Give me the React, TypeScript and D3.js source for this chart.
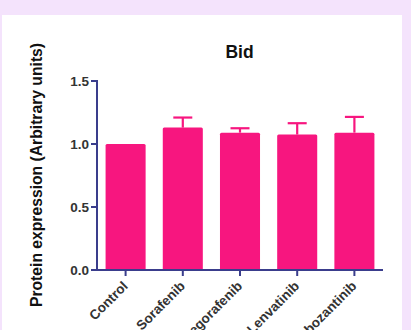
import React from "react";
import * as d3 from "d3";

const categories = ["Control", "Sorafenib", "Regorafenib", "Lenvatinib", "Cabozantinib"];
const means = [1.0, 1.13, 1.09, 1.075, 1.09];
const errors = [0, 0.08, 0.035, 0.09, 0.125];
const yTicks = [0.0, 0.5, 1.0, 1.5];

const W = 411;
const H = 330;
const BAR = "#f7167f";
const AXIS = "#3a3d8c";
const FONT = "'Liberation Sans', Arial, sans-serif";

export default function App() {
  const x = d3.scaleBand<string>().domain(categories).range([97, 383]).paddingInner(0.3).paddingOuter(0.15);
  const y = d3.scaleLinear().domain([0, 1.5]).range([270, 81]);
  const bw = x.bandwidth();

  return (
    <svg
      width={W}
      height={H}
      style={{ position: "absolute", left: 0, top: 0, display: "block" }}
      fontFamily={FONT}
    >
      <rect x={0} y={0} width={W} height={H} fill="#f4e3fc" />
      <rect x={2} y={15} width={400} height={H} fill="#ffffff" />

      <text x={239.5} y={58} textAnchor="middle" fontSize={17.5} fontWeight="bold" fill="#111">
        Bid
      </text>

      <text
        transform={`translate(42, 175) rotate(-90)`}
        textAnchor="middle"
        fontSize={15.7}
        fontWeight="bold"
        fill="#111"
      >
        Protein expression (Arbitrary units)
      </text>

      {categories.map((c, i) => {
        const cx = (x(c) as number) + bw / 2;
        const top = y(means[i]);
        const hi = y(means[i] + errors[i]);
        return (
          <g key={c}>
            <rect x={x(c)} y={top} width={bw} height={y(0) - top} fill={BAR} rx={1.5} />
            {errors[i] > 0 && (
              <g stroke={BAR} strokeWidth={2.2}>
                <line x1={cx} x2={cx} y1={top} y2={hi} />
                <line x1={cx - 9.5} x2={cx + 9.5} y1={hi} y2={hi} />
              </g>
            )}
          </g>
        );
      })}

      {/* y axis */}
      <line x1={97} x2={97} y1={y(1.5) - 1} y2={y(0)} stroke={AXIS} strokeWidth={2} />
      {yTicks.map((t) => (
        <g key={t}>
          <line x1={91} x2={97} y1={y(t)} y2={y(t)} stroke={AXIS} strokeWidth={2} />
          <text x={89} y={y(t)} dy="0.36em" textAnchor="end" fontSize={13.5} fontWeight="bold" fill="#333">
            {t.toFixed(1)}
          </text>
        </g>
      ))}

      {/* x axis */}
      <line x1={92} x2={383} y1={y(0)} y2={y(0)} stroke={AXIS} strokeWidth={2} />
      {categories.map((c) => {
        const cx = (x(c) as number) + bw / 2;
        return (
          <g key={c}>
            <line x1={cx} x2={cx} y1={y(0)} y2={y(0) + 6} stroke={AXIS} strokeWidth={2} />
            <text
              transform={`translate(${cx + 3}, ${y(0) + 17}) rotate(-45)`}
              textAnchor="end"
              fontSize={13.5}
              fontWeight="bold"
              fill="#333"
            >
              {c}
            </text>
          </g>
        );
      })}
    </svg>
  );
}
